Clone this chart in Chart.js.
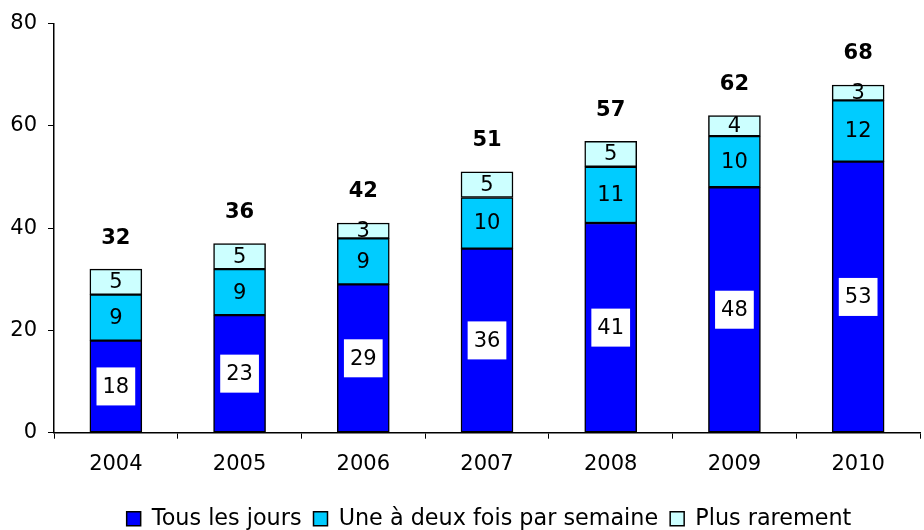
<!DOCTYPE html>
<html lang="fr">
<head>
  <meta charset="UTF-8" />
  <title>Fréquence</title>
  <style>
    html, body { margin: 0; padding: 0; background: #fff; }
    .wrap { width: 924px; height: 530px; }
  </style>
  <script src="https://cdn.jsdelivr.net/npm/chart.js"></script>
</head>
<body>
  <div class="wrap"><canvas id="chart" width="924" height="530"></canvas></div>
  <script>
    const years = ['2004', '2005', '2006', '2007', '2008', '2009', '2010'];
    const tousLesJours = [18, 23, 29, 36, 41, 48, 53];
    const uneADeux = [9, 9, 9, 10, 11, 10, 12];
    const plusRarement = [5, 5, 3, 5, 5, 4, 3];
    const totals = [32, 36, 42, 51, 57, 62, 68];
    const yTicks = [0, 20, 40, 60, 80];

    const FONT = 'DejaVu Sans, Verdana, sans-serif';

    // values inside the segments, plus the bold totals above each bar
    const labelPlugin = {
      id: 'segmentLabels',
      afterDatasetsDraw(chart) {
        const ctx = chart.ctx;
        ctx.save();
        ctx.textAlign = 'center';
        ctx.textBaseline = 'middle';
        chart.data.datasets.forEach((ds, i) => {
          const meta = chart.getDatasetMeta(i);
          meta.data.forEach((bar, j) => {
            const cy = (bar.y + bar.base) / 2;
            const txt = String(ds.data[j]);
            ctx.font = '21px ' + FONT;
            if (i === 0) {
              const w = ctx.measureText(txt).width + 12;
              ctx.fillStyle = '#fff';
              ctx.fillRect(bar.x - w / 2, cy - 19, w, 38);
            }
            ctx.fillStyle = '#000';
            ctx.fillText(txt, bar.x, cy + 1);
          });
        });
        const top = chart.getDatasetMeta(chart.data.datasets.length - 1);
        ctx.font = 'bold 21px ' + FONT;
        top.data.forEach((bar, j) => {
          ctx.fillText(String(totals[j]), bar.x, bar.y - 31);
        });
        ctx.restore();
      }
    };

    // nudge the legend row a bit lower and to the right of the canvas centre
    const legendShift = {
      id: 'legendShift',
      afterLayout(chart) {
        const l = chart.legend;
        const h = l.height;
        l.top = 530 - h + 10;
        l.bottom = l.top + h;
        l.left += 29;
        l.right += 29;
      }
    };

    new Chart(document.getElementById('chart'), {
      type: 'bar',
      data: {
        labels: years,
        datasets: [
          { label: 'Tous les jours', data: tousLesJours, backgroundColor: '#0000FF' },
          { label: 'Une à deux fois par semaine', data: uneADeux, backgroundColor: '#00CCFF' },
          { label: 'Plus rarement', data: plusRarement, backgroundColor: '#CCFFFF' }
        ].map(d => Object.assign(d, {
          borderColor: '#000',
          borderWidth: 1.5,
          borderSkipped: false,
          barThickness: 52
        }))
      },
      options: {
        responsive: false,
        animation: false,
        layout: { padding: { top: 17, right: 4, left: 0, bottom: 0 } },
        plugins: {
          tooltip: { enabled: false },
          legend: {
            position: 'bottom',
            labels: {
              color: '#000',
              font: { family: FONT, size: 22.3 },
              boxWidth: 14,
              boxHeight: 14,
              padding: 12
            }
          }
        },
        scales: {
          x: {
            stacked: true,
            offset: true,
            grid: {
              offset: true,
              drawOnChartArea: false,
              drawTicks: true,
              tickLength: 6,
              color: '#000'
            },
            border: { display: true, color: '#000', width: 1.5 },
            ticks: { color: '#000', padding: 13, font: { family: FONT, size: 21 } },
            afterFit(s) { s.height = 53; }
          },
          y: {
            stacked: true,
            min: 0,
            max: 80,
            afterBuildTicks(s) { s.ticks = yTicks.map(v => ({ value: v })); },
            grid: {
              drawOnChartArea: false,
              drawTicks: true,
              tickLength: 6,
              color: '#000'
            },
            border: { display: true, color: '#000', width: 1.5 },
            ticks: { color: '#000', padding: 11, font: { family: FONT, size: 21 } },
            afterFit(s) { s.width = 54; }
          }
        }
      },
      plugins: [labelPlugin, legendShift]
    });
  </script>
</body>
</html>
